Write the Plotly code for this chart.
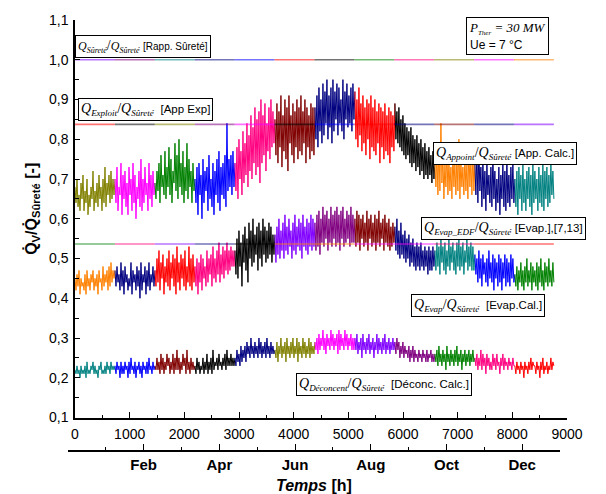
import numpy as np
import plotly.graph_objects as go

# ---------------- data (in % of Q_Surete) ----------------
# one year of simulation, 12 monthly blocks, 40 readings per block
n_blocks = 12
per_block = 40
year_hours = 8760

app_calc_pct = [  # Q_Appoint / Q_Surete  [App. Calc.]
    68,64,70,63,66,62,69,65,71,62,67,64,70,61,66,63,68,65,72,62,67,64,69,63,71,65,68,62,70,64,73,63,69,66,71,64,72,65,70,66,
    70,64,73,62,68,66,74,61,71,65,72,63,69,61,73,66,70,62,74,64,71,60,68,65,72,63,75,62,70,64,73,66,69,62,74,65,71,63,72,66,
    69,65,72,67,74,64,76,68,71,66,77,65,73,68,78,66,75,64,72,69,79,67,76,65,80,68,74,66,77,64,73,67,79,65,75,68,72,64,74,67,
    70,64,73,61,74,66,71,60,75,64,72,67,73,62,76,65,70,63,74,61,72,66,75,64,77,62,73,66,74,65,76,63,84,67,75,68,76,66,77,68,
    74,67,78,65,80,70,77,66,82,69,79,71,84,68,81,72,86,70,83,74,88,71,85,73,87,69,90,74,86,76,89,72,84,77,88,75,90,78,87,79,
    85,76,89,74,87,78,91,73,86,77,90,75,88,72,91,79,86,76,89,74,87,78,90,75,88,77,91,76,87,79,90,74,88,78,86,75,89,77,88,76,
    88,80,91,78,93,82,90,79,94,81,92,84,95,80,91,83,93,79,95,82,92,85,94,81,93,84,90,82,95,80,92,85,94,83,91,84,93,82,94,85,
    92,80,90,78,93,81,89,77,91,79,88,76,90,80,89,75,91,78,88,77,90,76,87,79,89,74,88,78,87,75,89,77,86,76,88,74,87,78,86,77,
    89,80,87,79,88,78,85,77,86,76,84,75,83,76,82,74,83,73,81,74,80,72,81,73,79,71,80,72,78,70,79,71,77,70,78,71,76,69,77,70,
    74,68,77,66,79,67,84,69,76,65,74,68,78,66,75,67,73,65,77,68,74,66,76,67,80,65,75,68,73,66,76,67,74,65,78,68,75,66,77,67,
    74,66,77,64,78,67,73,63,75,65,72,62,74,66,71,64,73,63,76,65,72,62,70,64,73,61,71,65,74,63,72,62,75,64,71,63,73,65,74,64,
    70,63,72,61,73,65,71,62,74,64,70,62,72,65,73,63,71,61,74,64,72,65,70,62,73,64,71,63,74,62,72,65,73,63,71,64,74,66,72,65,
]
evap_cal_pct = [  # Q_Evap / Q_Surete  [Evap.Cal.]
    45,42,46,43,47,41,45,43,44,42,46,41,47,43,45,42,46,44,47,42,45,43,46,41,47,44,45,42,48,43,46,44,47,42,48,43,49,44,47,45,
    47,43,48,44,46,42,49,43,47,41,48,44,46,42,45,43,49,41,47,44,46,42,48,43,47,40,49,42,46,44,48,41,47,43,49,42,46,44,48,43,
    47,43,50,44,52,42,49,45,51,41,48,44,50,43,52,42,49,45,51,43,50,41,53,44,49,42,51,45,50,43,52,42,48,44,53,43,50,42,51,44,
    48,43,50,41,49,44,51,42,50,45,48,43,52,44,50,46,51,43,53,45,50,44,52,46,54,44,51,46,53,45,52,47,54,46,52,47,53,48,52,48,
    52,46,55,45,57,48,54,43,56,49,58,47,55,44,59,50,57,48,60,49,56,51,58,47,59,50,57,48,60,51,58,49,57,50,59,51,58,49,56,51,
    56,49,58,51,60,50,57,52,59,50,61,52,58,51,60,53,57,50,59,52,61,51,58,53,60,52,59,50,61,53,58,52,60,51,59,53,61,52,60,53,
    59,52,61,53,62,51,60,54,63,53,61,55,62,52,60,54,63,53,61,55,62,53,63,54,61,52,62,55,63,53,60,54,62,55,61,53,63,54,61,54,
    60,53,62,54,61,52,60,55,61,53,59,54,62,52,60,55,61,53,59,54,61,52,60,54,62,53,59,55,60,52,61,54,59,53,60,52,58,53,59,54,
    58,52,60,51,57,50,59,51,56,50,57,49,55,50,56,48,54,49,55,48,53,47,54,48,53,47,54,48,52,47,53,48,52,46,53,47,52,47,53,48,
    52,47,54,48,53,46,55,49,53,47,54,46,52,48,55,47,53,49,54,47,52,46,54,48,55,47,53,48,54,46,52,49,55,47,53,48,54,47,53,47,
    51,46,50,44,52,45,50,43,51,46,49,44,50,43,52,45,49,44,51,42,50,45,49,43,51,44,50,42,49,45,51,43,50,44,49,43,51,45,50,44,
    46,43,48,42,47,44,49,43,47,42,48,44,50,43,47,44,49,42,48,44,47,43,49,42,48,44,50,43,47,42,49,44,48,43,50,44,47,43,49,44,
]
deconc_calc_pct = [  # Q_Deconcent / Q_Surete  [Deconc. Calc.]
    22,21,23,21,22,20,23,21,22,21,23,20,24,21,22,21,23,22,24,21,23,21,22,20,23,22,24,21,22,21,23,21,24,22,23,21,24,22,23,22,
    23,21,24,22,23,20,24,21,23,21,24,22,23,20,24,21,25,22,23,21,24,20,23,22,24,21,23,20,24,22,23,21,24,21,25,22,23,21,24,22,
    23,22,25,22,24,21,26,22,25,21,24,22,26,23,25,21,24,22,26,21,25,22,27,22,25,21,24,22,26,23,25,21,27,22,24,21,25,22,24,22,
    23,21,25,22,24,21,23,22,25,21,24,22,26,21,24,22,25,21,27,22,24,23,25,22,26,23,24,22,25,23,26,22,27,23,25,23,26,23,25,23,
    25,23,27,24,26,23,28,24,27,25,28,24,29,26,28,25,30,26,28,25,29,26,28,25,30,26,29,25,28,26,29,25,30,26,28,25,29,26,28,26,
    27,25,29,24,28,26,30,25,28,26,29,24,30,26,28,25,29,26,30,25,28,26,30,24,29,26,28,25,30,26,29,25,28,26,30,25,29,26,28,26,
    29,27,30,26,31,27,30,28,32,27,30,26,31,28,30,27,32,28,31,27,30,28,31,26,32,27,31,28,30,27,32,28,31,27,30,28,31,27,30,27,
    30,27,31,26,29,27,30,25,31,27,29,26,30,27,31,26,29,27,30,25,29,27,31,26,30,27,29,26,30,27,31,26,29,27,30,26,29,27,30,27,
    29,26,30,27,29,25,28,26,29,25,28,26,27,25,28,24,27,25,28,24,27,25,26,24,27,25,26,24,27,25,26,24,27,24,26,25,27,24,26,24,
    26,24,27,23,28,24,26,23,27,24,26,22,28,24,26,23,27,24,26,23,27,24,28,23,26,24,27,22,26,24,27,23,26,24,27,23,26,24,27,24,
    25,23,26,22,25,23,27,22,26,23,25,21,26,23,25,22,24,22,26,23,25,22,26,23,24,21,25,23,26,22,25,23,24,22,25,23,24,22,25,23,
    23,21,24,22,23,21,24,22,23,20,24,22,23,21,24,22,25,22,24,23,23,21,24,22,23,20,24,22,25,21,23,22,24,21,23,22,25,22,24,23,
]

# constant ratios
ratio_surete = 1.0      # [Rapp. Surete]
ratio_exploit = 0.8375  # [App Exp]
ratio_evap_edf = 0.5365 # [Evap.],[7,13]

# Origin colour palette
C = {
    "black": "#000000", "red": "#FF0000", "green": "#008000", "blue": "#0000FF",
    "magenta": "#FF00FF", "olive": "#808000", "navy": "#000080", "purple": "#800080",
    "wine": "#800000", "cyan": "#008080", "orange": "#FF8000", "violet": "#8000FF",
    "pink": "#FF0080",
}
app_calc_colors = ["olive", "magenta", "green", "blue", "pink", "wine", "navy", "red",
                   "black", "orange", "navy", "cyan"]
evap_cal_colors = ["orange", "navy", "red", "pink", "black", "violet", "purple", "wine",
                   "navy", "cyan", "blue", "green"]
deconc_colors = ["cyan", "blue", "wine", "black", "navy", "olive", "magenta", "violet",
                 "purple", "green", "pink", "red"]
surete_colors = ["violet", "purple", "cyan", "navy", "blue", "red", "black", "green",
                 "pink", "olive", "magenta", "orange"]
exploit_colors = ["red", "black", "olive", "purple", "magenta", "black", "blue", "red",
                  "navy", "wine", "navy", "violet"]
evap_edf_colors = ["green", "pink", "violet", "navy", "black", "orange", "orange", "magenta",
                   "magenta", "pink", "red", "red"]

month_ticks = [0, 2, 4, 6, 8, 10, 12, 13]
month_labels = ["", "Feb", "Apr", "Jun", "Aug", "Oct", "Dec", ""]
month_minor = [1, 3, 5, 7, 9, 11]

# ---------------- figure ----------------
hours = np.linspace(0, year_hours, n_blocks * per_block)
fig = go.Figure()


def hexa(h, a):
    h = h.lstrip("#")
    return "rgba(%d,%d,%d,%.2f)" % (int(h[0:2], 16), int(h[2:4], 16), int(h[4:6], 16), a)


def add_blocks(values_pct, colors):
    v = np.asarray(values_pct, dtype=float) / 100.0
    for b in range(n_blocks):
        i0 = b * per_block
        i1 = min(i0 + per_block + 1, len(v))
        fig.add_trace(go.Scatter(x=hours[i0:i1].tolist(), y=v[i0:i1].tolist(), mode="lines",
                                 line=dict(color=C[colors[b]], width=1),
                                 xaxis="x", yaxis="y",
                                 hoverinfo="skip", showlegend=False))


def add_const(level, colors):
    edges = np.linspace(0, year_hours, n_blocks + 1)
    for b in range(n_blocks):
        fig.add_trace(go.Scatter(x=[float(edges[b]), float(edges[b + 1])], y=[level, level],
                                 mode="lines", xaxis="x", yaxis="y",
                                 line=dict(color=hexa(C[colors[b]], 0.55), width=1.6),
                                 hoverinfo="skip", showlegend=False))


add_blocks(app_calc_pct, app_calc_colors)
add_blocks(evap_cal_pct, evap_cal_colors)
add_blocks(deconc_calc_pct, deconc_colors)
add_const(ratio_surete, surete_colors)
add_const(ratio_exploit, exploit_colors)
add_const(ratio_evap_edf, evap_edf_colors)

# invisible trace that carries the month axis (its own tiny subplot at the bottom)
fig.add_trace(go.Scatter(x=[0, 13], y=[0, 0], mode="markers", marker=dict(opacity=0),
                         xaxis="x2", yaxis="y2", showlegend=False, hoverinfo="skip"))

SANS = "Liberation Sans"
SERIF = "Liberation Serif"


def ratio_label(num_sub, tag, qsize=14, ssize=9, tsize=11.5):
    q = '<span style="font-size:%spx"><i>Q</i></span>' % qsize
    def sub(s):
        return '<sub><span style="font-size:%spx"><i>%s</i></span></sub>' % (ssize, s)
    return (q + sub(num_sub) + "/" + q + sub("Sûreté") +
            ' <span style="font-family:%s;font-size:%spx">%s</span>' % (SANS, tsize, tag))


box = dict(xref="x", yref="y", xanchor="left", yanchor="middle", showarrow=False,
           bgcolor="white", bordercolor="black", borderwidth=1, borderpad=2,
           font=dict(family=SERIF, size=14, color="black"))

annotations = [
    dict(x=0, y=1.034, text=ratio_label("Sûreté", "[Rapp. Sûreté]", 12, 8, 10), **box),
    dict(x=55, y=0.8745, text=ratio_label("Exploit", "&nbsp;[App Exp]"), **box),
    dict(x=6549, y=0.7645, text=ratio_label("Appoint", "[App. Calc.]"), **box),
    dict(x=6329, y=0.576, text=ratio_label("Evap_EDF", "[Evap.],[7,13]"), **box),
    dict(x=6146, y=0.382, text=ratio_label("Evap", "&nbsp;[Evap.Cal.]"), **box),
    dict(x=4042, y=0.183, text=ratio_label("Déconcent", "&nbsp;[Déconc. Calc.]"), **box),
    dict(x=7152, y=1.0595, align="left",
         text='<i>P</i><sub><span style="font-size:7px"><i>Ther</i></span></sub><i> = 30 MW</i><br>'
              '<span style="font-family:%s;font-size:12px">Ue = 7 °C</span>' % SANS,
         **{k: v for k, v in box.items() if k != "font"},
         font=dict(family=SERIF, size=13, color="black")),
    dict(xref="paper", yref="paper", x=-0.096, y=0.561, textangle=-90, showarrow=False,
         text="<b>Q̇<sub>V</sub>/Q̇<sub>Sûreté</sub> [-]</b>",
         font=dict(family=SANS, size=16, color="black")),
    dict(xref="paper", yref="paper", x=0.493, y=-0.082, showarrow=False,
         xanchor="center", yanchor="middle",
         text="<b><i>Temps</i> [h]</b>", font=dict(family=SANS, size=16, color="black")),
]

LINE = dict(showline=True, linecolor="black", linewidth=1.5, showgrid=False,
            zeroline=False, ticks="inside", tickcolor="black", tickwidth=1.2)

fig.update_layout(
    width=606, height=494,
    margin=dict(l=68, r=39, t=17, b=44),
    paper_bgcolor="white", plot_bgcolor="rgba(0,0,0,0)",
    separators=", ",
    showlegend=False,
    annotations=annotations,
    xaxis=dict(domain=[7 / 499, 1], range=[0, 9000], anchor="y", dtick=1000, tick0=0,
               ticklen=6, ticklabelstandoff=3,
               tickfont=dict(family=SANS, size=14, color="black"),
               minor=dict(dtick=500, ticklen=3, ticks="inside", tickwidth=1.2,
                          tickcolor="black"),
               **LINE),
    yaxis=dict(domain=[0.0755, 1], range=[0.1, 1.1], anchor="x", dtick=0.1, tick0=0.1,
               tickformat=".1f", ticklen=5, ticklabelstandoff=2,
               tickfont=dict(family=SANS, size=14, color="black"),
               minor=dict(dtick=0.05, ticklen=4, ticks="inside", tickwidth=1.2,
                          tickcolor="black"),
               **LINE),
    xaxis2=dict(domain=[0, 492 / 499], range=[0, 13], anchor="y2",
                tickmode="array", tickvals=month_ticks,
                ticktext=["<b>%s</b>" % m if m else "" for m in month_labels],
                ticklen=6, tickfont=dict(family=SANS, size=15, color="black"),
                minor=dict(tickvals=month_minor, ticklen=3, ticks="inside", tickwidth=1.2,
                           tickcolor="black"),
                **LINE),
    yaxis2=dict(domain=[0, 0.002], anchor="x2", visible=False, range=[0, 1]),
)

fig.write_html("out.html", config={"displayModeBar": False},
               post_script="document.body.style.margin='0px';")
